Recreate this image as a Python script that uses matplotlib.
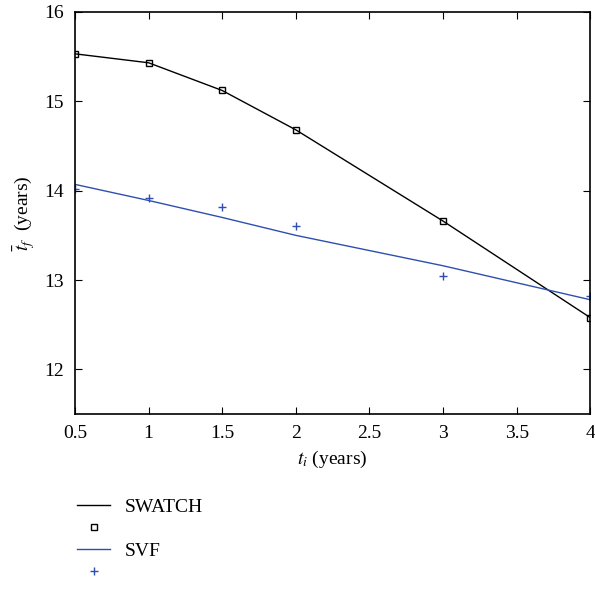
import numpy as np
import matplotlib
matplotlib.use("Agg")
import matplotlib.pyplot as plt

plt.rcParams['font.family'] = ['Liberation Serif', 'DejaVu Serif']
plt.rcParams['mathtext.fontset'] = 'stix'

# values
t_i = [0.5, 1.0, 1.5, 2.0, 3.0, 4.0]
swatch = [15.53, 15.43, 15.12, 14.68, 13.66, 12.58]
svf_points = [14.02, 13.92, 13.82, 13.60, 13.05, 12.82]
svf_fit = [14.07, 13.89, 13.70, 13.50, 13.16, 12.78]

xticks = [0.5, 1, 1.5, 2, 2.5, 3, 3.5, 4]
xticklabels = ['0.5', '1', '1.5', '2', '2.5', '3', '3.5', '4']
yticks = [12, 13, 14, 15, 16]

blue = '#2f4fb0'
fs = 14

fig = plt.figure(figsize=(5.95, 5.9), dpi=100)
ax = fig.add_axes([0.126, 0.298, 0.866, 0.682])

l1, = ax.plot(t_i, swatch, color='black', lw=1.0)
m1, = ax.plot(t_i, swatch, ls='none', marker='s', ms=4.5, mfc='none',
              mec='black', mew=1.0)
l2, = ax.plot(t_i, svf_fit, color=blue, lw=1.0)
m2, = ax.plot(t_i, svf_points, ls='none', marker='+', ms=5.5, mec=blue, mew=1.0)

ax.set_xlim(0.5, 4)
ax.set_ylim(11.5, 16)
ax.set_xticks(xticks)
ax.set_xticklabels(xticklabels)
ax.set_yticks(yticks)
ax.tick_params(direction='in', top=True, right=True, labelsize=fs, length=5,
               pad=8)
for s in ax.spines.values():
    s.set_linewidth(1.2)

ax.set_xlabel('$t_i$ (years)', fontsize=fs, labelpad=5)
ax.set_ylabel(r'$\bar{t}_f$  (years)', fontsize=fs, labelpad=5)

leg = fig.legend([l1, m1, l2, m2], ['SWATCH', '', 'SVF', ''],
                 loc='upper left', bbox_to_anchor=(0.1, 0.185),
                 frameon=False, fontsize=fs, handlelength=1.7,
                 labelspacing=0.22, handletextpad=0.75)

fig.savefig('out.png', dpi=100)
